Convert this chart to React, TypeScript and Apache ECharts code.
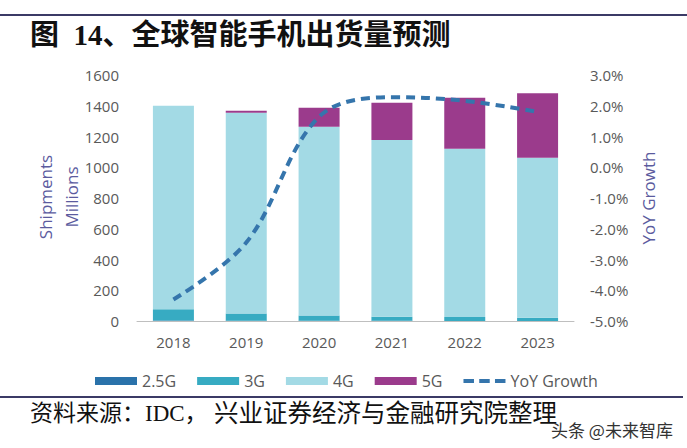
import React, { useEffect, useRef } from "react";
import * as echarts from "echarts";

const years = ["2018", "2019", "2020", "2021", "2022", "2023"];
const g25 = [4, 2, 1, 1, 0.5, 0.5];
const g3 = [72, 46, 35, 26, 25, 20];
const g4 = [1324, 1306, 1227, 1150, 1095, 1041];
const g5 = [0, 13, 124, 242, 331, 419];
const yoy = [-4.3, -2.45, 1.64, 2.28, 2.16, 1.8];

const titleText = "图  14、全球智能手机出货量预测";
const sourceHead = "资料来源：IDC，";
const sourceTail = "兴业证券经济与金融研究院整理";
const watermark = "头条 @未来智库";

const FONT = '"Open Sans", "Noto Sans", sans-serif';
const SERIF = '"Liberation Serif", "Noto Sans CJK SC", serif';
const NAME_COLOR = "#5b5b9e";
const LABEL_COLOR = "#595959";
const LINE_COLOR = "#3575ac";

export default function App() {
  const ref = useRef<HTMLDivElement>(null);
  useEffect(() => {
    if (!ref.current) return;
    const chart = echarts.init(ref.current, undefined, { renderer: "svg" });
    const barCommon = { type: "bar", stack: "total", barWidth: 41, yAxisIndex: 0 };
    chart.setOption({
      animation: false,
      backgroundColor: "#ffffff",
      grid: { left: 137, right: 113, top: 75, bottom: 127, containLabel: false },
      legend: {
        left: 95,
        top: 373,
        padding: 0,
        itemWidth: 42,
        itemHeight: 8,
        itemGap: 21,
        textStyle: { fontSize: 16, color: LABEL_COLOR, fontFamily: FONT },
        data: [
          { name: "2.5G", icon: "rect" },
          { name: "3G", icon: "rect" },
          { name: "4G", icon: "rect" },
          { name: "5G", icon: "rect" },
          {
            name: "YoY Growth",
            icon: "path://M0,0h10v4h-10z M15,0h10v4h-10z M30,0h10v4h-10z",
            itemStyle: { color: LINE_COLOR },
          },
        ],
      },
      xAxis: {
        type: "category",
        data: years,
        axisLine: { show: true, lineStyle: { color: "#bfbfbf", width: 1 } },
        axisTick: { show: false },
        axisLabel: { margin: 13, fontSize: 15, color: LABEL_COLOR, fontFamily: FONT },
      },
      yAxis: [
        {
          type: "value",
          min: 0,
          max: 1600,
          interval: 200,
          splitLine: { show: false },
          axisLine: { show: false },
          axisTick: { show: false },
          axisLabel: {
            margin: 18,
            fontSize: 15,
            color: LABEL_COLOR,
            fontFamily: FONT,
            formatter: (v: number) => String(v),
          },
        },
        {
          type: "value",
          min: -5,
          max: 3,
          interval: 1,
          splitLine: { show: false },
          axisLine: { show: false },
          axisTick: { show: false },
          axisLabel: {
            margin: 16,
            fontSize: 15,
            color: LABEL_COLOR,
            fontFamily: FONT,
            formatter: (v: number) => v.toFixed(1) + "%",
          },
        },
      ],
      series: [
        { ...barCommon, name: "2.5G", data: g25, itemStyle: { color: "#2a72aa" } },
        { ...barCommon, name: "3G", data: g3, itemStyle: { color: "#37abc2" } },
        { ...barCommon, name: "4G", data: g4, itemStyle: { color: "#a3dae5" } },
        { ...barCommon, name: "5G", data: g5, itemStyle: { color: "#9b3b8c" } },
        {
          type: "line",
          name: "YoY Growth",
          yAxisIndex: 1,
          data: yoy,
          smooth: 0.35,
          symbol: "none",
          showSymbol: false,
          itemStyle: { color: LINE_COLOR },
          lineStyle: { color: LINE_COLOR, width: 4, type: [9, 6] },
          z: 5,
        },
      ],
      graphic: [
        { type: "rect", shape: { x: 0, y: 14, width: 687, height: 2 }, style: { fill: "#3b3a66" } },
        { type: "rect", shape: { x: 0, y: 396, width: 683, height: 2 }, style: { fill: "#3b3a66" } },
        {
          type: "text",
          x: 30,
          y: 35,
          style: {
            text: titleText,
            fill: "#111",
            font: `bold 29px ${SERIF}`,
            textAlign: "left",
            textVerticalAlign: "middle",
          },
        },
        {
          type: "text",
          x: 30,
          y: 413,
          style: {
            text: sourceHead,
            fill: "#111",
            font: `23px ${SERIF}`,
            textAlign: "left",
            textVerticalAlign: "middle",
          },
        },
        {
          type: "text",
          x: 214,
          y: 413,
          style: {
            text: sourceTail,
            fill: "#111",
            font: `24.5px ${SERIF}`,
            textAlign: "left",
            textVerticalAlign: "middle",
          },
        },
        {
          type: "text",
          x: 551,
          y: 429,
          style: {
            text: watermark,
            fill: "#333",
            font: `17px "Noto Sans CJK SC", sans-serif`,
            textAlign: "left",
            textVerticalAlign: "middle",
          },
        },
        {
          type: "text",
          x: 45,
          y: 197,
          rotation: Math.PI / 2,
          style: {
            text: "Shipments",
            fill: NAME_COLOR,
            font: `17px ${FONT}`,
            textAlign: "center",
            textVerticalAlign: "middle",
          },
        },
        {
          type: "text",
          x: 71,
          y: 197,
          rotation: Math.PI / 2,
          style: {
            text: "Millions",
            fill: NAME_COLOR,
            font: `17px ${FONT}`,
            textAlign: "center",
            textVerticalAlign: "middle",
          },
        },
        {
          type: "text",
          x: 648,
          y: 198,
          rotation: Math.PI / 2,
          style: {
            text: "YoY Growth",
            fill: NAME_COLOR,
            font: `17px ${FONT}`,
            textAlign: "center",
            textVerticalAlign: "middle",
          },
        },
      ],
    });
    return () => chart.dispose();
  }, []);
  return (
    <div
      ref={ref}
      style={{ position: "fixed", left: 0, top: 0, width: 687, height: 448, background: "#fff" }}
    />
  );
}
